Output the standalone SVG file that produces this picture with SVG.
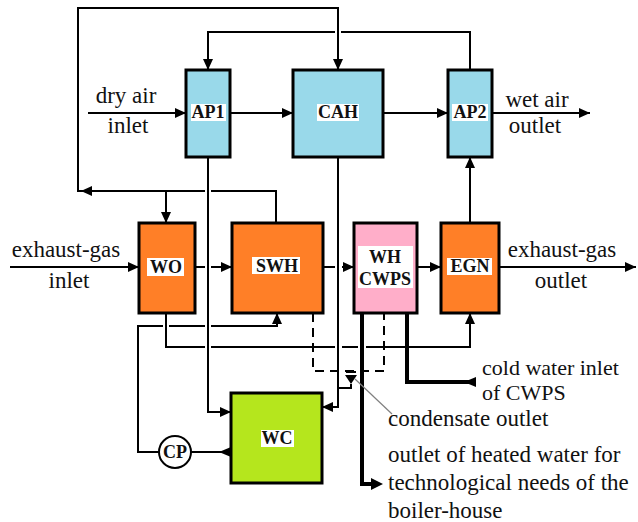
<svg xmlns="http://www.w3.org/2000/svg" width="638" height="522" viewBox="0 0 638 522">
<defs>
<style>
.box{stroke:#000;stroke-width:3}
.blue{fill:#99d9ea}.orange{fill:#ff7f27}.pink{fill:#ffaec9}.green{fill:#b5e61d}
.ln{fill:none;stroke:#000;stroke-width:2}
.thick{fill:none;stroke:#000;stroke-width:4}
.dash{fill:none;stroke:#000;stroke-width:2;stroke-dasharray:9,6}
.ah{fill:#000}
.lbl{font-family:"Liberation Serif","Times New Roman",serif;font-size:23px;fill:#111}
.bl{font-family:"Liberation Serif","Times New Roman",serif;font-size:18px;font-weight:bold;fill:#111;text-anchor:middle}
.bg{fill:#fff}
</style>
<marker id="arr" markerUnits="userSpaceOnUse" markerWidth="12" markerHeight="10" refX="11" refY="5" orient="auto">
<path d="M0,0 L11,5 L0,10 z" fill="#000"/>
</marker>
</defs>
<rect width="638" height="522" fill="#fff"/>

<g id="connectors">
<path class="ln" d="M88,113 H186" marker-end="url(#arr)"/>
<path class="ln" d="M230,113 H293" marker-end="url(#arr)"/>
<path class="ln" d="M383,113 H448" marker-end="url(#arr)"/>
<path class="ln" d="M492,113 H590" marker-end="url(#arr)"/>
<path class="ln" d="M276,223 V191 H211"/>
<path class="ln" d="M205,191 H78 V8 H338 V70" marker-end="url(#arr)"/>
<polygon class="ah" points="81,191 92,186 92,196"/>
<path class="ln" d="M166,191 V223" marker-end="url(#arr)"/>
<path class="ln" d="M470,70 V32 H341"/>
<path class="ln" d="M335,32 H208 V70" marker-end="url(#arr)"/>
<path class="ln" d="M470,223 V157" marker-end="url(#arr)"/>
<path class="ln" d="M10,267 H139" marker-end="url(#arr)"/>
<path class="ln" d="M195,267 H205"/>
<path class="ln" d="M211,267 H232" marker-end="url(#arr)"/>
<path class="ln" d="M323,267 H335"/>
<path class="ln" d="M342,267 H354" marker-end="url(#arr)"/>
<path class="ln" d="M417,267 H441" marker-end="url(#arr)"/>
<path class="ln" d="M499,267 H636" marker-end="url(#arr)"/>
<path class="ln" d="M208,157 V412 H231" marker-end="url(#arr)"/>
<path class="ln" d="M338,157 V407 H322" marker-end="url(#arr)"/>
<path class="ln" d="M166,313 V347 H205"/>
<path class="ln" d="M211,347 H335"/>
<path class="ln" d="M342,347 H358"/>
<path class="ln" d="M366,347 H470 V313" marker-end="url(#arr)"/>
<path class="ln" d="M159,452 H138 V326 H163"/>
<path class="ln" d="M169,326 H205"/>
<path class="ln" d="M211,326 H277 V313" marker-end="url(#arr)"/>
<path class="ln" d="M191,452 H231"/>
<polygon class="ah" points="219,452 231,447 231,457"/>
<path class="dash" d="M313,313 V371 H384 V313"/>
<path class="ln" d="M346,372 H356"/>
<polygon class="ah" points="345,375 357,375 351,384"/>
<path class="ln" d="M351,384 V388 H338"/>
<path class="thick" d="M407,313 V382 H475"/>
<polygon class="ah" points="464,382 476,377 476,387"/>
<path class="thick" d="M362,313 V484 H371"/>
<polygon class="ah" points="383,484 371,478 371,490"/>
<path d="M355,379 L392,414" fill="none" stroke="#808080" stroke-width="1.2"/>
</g>

<g id="AP1">
<rect class="box blue" x="186" y="70" width="44" height="87"/>
<rect class="bg" x="191" y="104" width="35" height="17"/>
<text class="bl" x="208" y="118">AP1</text>
</g>
<g id="CAH">
<rect class="box blue" x="293" y="70" width="90" height="87"/>
<rect class="bg" x="317" y="104" width="42" height="17"/>
<text class="bl" x="338" y="118">CAH</text>
</g>
<g id="AP2">
<rect class="box blue" x="448" y="70" width="44" height="87"/>
<rect class="bg" x="452" y="104" width="36" height="17"/>
<text class="bl" x="470" y="118">AP2</text>
</g>
<g id="WO">
<rect class="box orange" x="139" y="223" width="56" height="90"/>
<rect class="bg" x="147" y="258" width="37" height="18"/>
<text class="bl" x="166" y="273">WO</text>
</g>
<g id="SWH">
<rect class="box orange" x="232" y="223" width="91" height="90"/>
<rect class="bg" x="252" y="257" width="48" height="17"/>
<text class="bl" x="277" y="272">SWH</text>
</g>
<g id="WHCWPS">
<rect class="box pink" x="354" y="223" width="63" height="90"/>
<rect class="bg" x="358" y="246" width="55" height="42"/>
<text class="bl" x="385" y="263">WH</text>
<text class="bl" x="385" y="285">CWPS</text>
</g>
<g id="EGN">
<rect class="box orange" x="441" y="223" width="58" height="90"/>
<rect class="bg" x="447" y="258" width="45" height="17"/>
<text class="bl" x="470" y="272">EGN</text>
</g>
<g id="WC">
<rect class="box green" x="231" y="393" width="91" height="90"/>
<rect class="bg" x="261" y="430" width="33" height="17"/>
<text class="bl" x="277" y="444">WC</text>
</g>
<g id="CP">
<circle cx="175" cy="452" r="16" fill="#fff" stroke="#000" stroke-width="2"/>
<text class="bl" x="175" y="458">CP</text>
</g>

<g id="labels">
<text class="lbl" x="126" y="103" text-anchor="middle">dry air</text>
<text class="lbl" x="128" y="133" text-anchor="middle">inlet</text>
<text class="lbl" x="537" y="107" text-anchor="middle">wet air</text>
<text class="lbl" x="535" y="133" text-anchor="middle">outlet</text>
<text class="lbl" x="66" y="257" text-anchor="middle">exhaust-gas</text>
<text class="lbl" x="69" y="288" text-anchor="middle">inlet</text>
<text class="lbl" x="562" y="257" text-anchor="middle">exhaust-gas</text>
<text class="lbl" x="561" y="288" text-anchor="middle">outlet</text>
<text class="lbl" x="482" y="375" style="font-size:22px">cold water inlet</text>
<text class="lbl" x="482" y="400" style="font-size:22px">of CWPS</text>
<text class="lbl" x="388" y="426">condensate outlet</text>
<text class="lbl" x="388" y="462">outlet of heated water for</text>
<text class="lbl" x="388" y="490">technological needs of the</text>
<text class="lbl" x="388" y="518">boiler-house</text>
</g>
</svg>
